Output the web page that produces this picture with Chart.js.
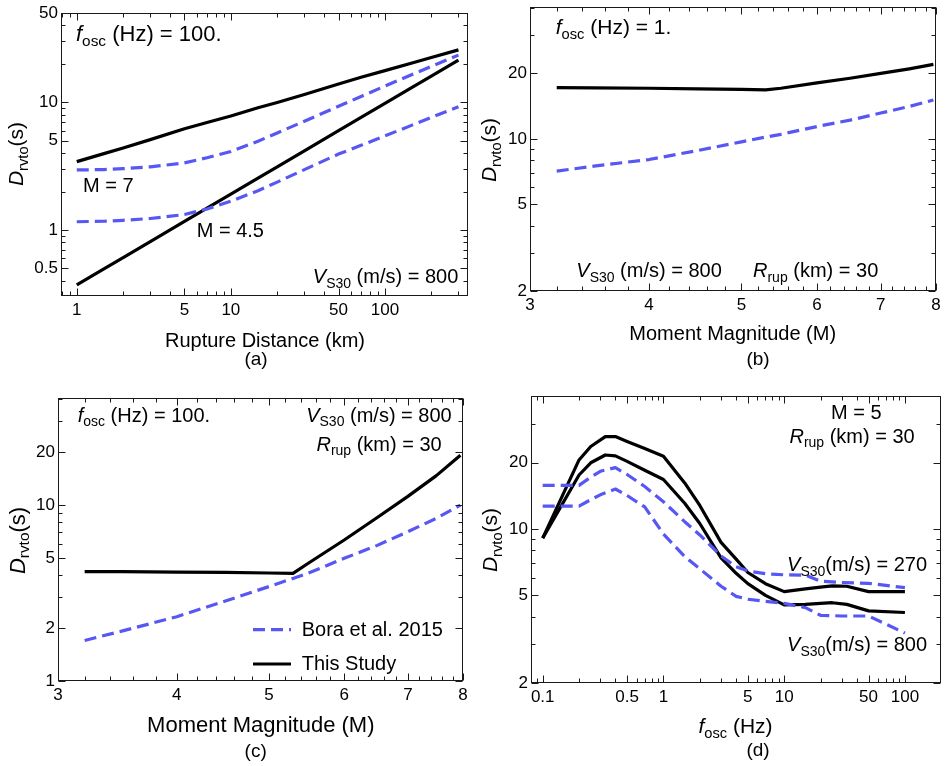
<!DOCTYPE html>
<html>
<head>
<meta charset="utf-8">
<script src="https://cdn.jsdelivr.net/npm/chart.js@4"></script>
<style>
  html, body { margin: 0; padding: 0; background: #fff; }
  #wrap { position: relative; width: 946px; height: 766px; }
  .panel { position: absolute; width: 473px; height: 383px; }
</style>
</head>
<body>
<div id="wrap">
  <canvas class="panel" id="chartA" width="473" height="383" style="left:0;top:0"></canvas>
  <canvas class="panel" id="chartB" width="473" height="383" style="left:473px;top:0"></canvas>
  <canvas class="panel" id="chartC" width="473" height="383" style="left:0;top:383px"></canvas>
  <canvas class="panel" id="chartD" width="473" height="383" style="left:473px;top:383px"></canvas>
</div>
<script>
// ============= data =========================================

// (a) duration vs rupture distance, f = 100 Hz, Vs30 = 800
const distKm = [1, 1.5, 2, 3, 5, 7, 10, 15, 20, 30, 50, 70, 100, 150, 200, 300]
const studyM7 = [3.43, 3.96, 4.38, 5.1, 6.2, 6.95, 7.8, 9.05, 9.95, 11.5, 13.9, 15.7, 17.7, 20.3, 22.4, 25.7]
const studyM45 = [0.371, 0.495, 0.607, 0.81, 1.165, 1.48, 1.907, 2.545, 3.12, 4.17, 6.0, 7.62, 9.8, 13.1, 16.0, 21.4]
const boraM7 = [2.95, 2.97, 3.02, 3.12, 3.35, 3.68, 4.12, 4.95, 5.75, 7.1, 9.3, 11.1, 13.4, 16.5, 19.1, 23.4]
const boraM45 = [1.16, 1.17, 1.19, 1.23, 1.32, 1.46, 1.68, 2.03, 2.37, 2.97, 3.93, 4.6, 5.45, 6.62, 7.6, 9.24]
const distTicks = [1, 5, 10, 50, 100]
const durTicksA = [0.5, 1, 5, 10, 50]

// (b) and (c) duration vs magnitude, Rrup = 30 km
const magnitudes = [3.2, 3.5, 4, 4.5, 5, 5.3, 5.5, 6, 6.5, 7, 7.5, 7.95]
const studyF1 = [17.2, 17.15, 17.1, 17.0, 16.9, 16.8, 17.1, 18.1, 19.0, 20.0, 21.0, 22.0]
const boraF1 = [7.11, 7.5, 8.04, 8.85, 9.7, 10.2, 10.5, 11.4, 12.2, 13.15, 14.1, 15.1]
const studyF100 = [4.19, 4.18, 4.16, 4.14, 4.11, 4.09, 4.67, 6.33, 8.5, 11.2, 14.7, 19.2]
const boraF100 = [1.70, 1.92, 2.32, 2.85, 3.44, 3.83, 4.1, 4.98, 5.9, 7.06, 8.4, 10.0]
const magTicks = [3, 4, 5, 6, 7, 8]
const durTicksB = [2, 5, 10, 20]
const durTicksC = [1, 2, 5, 10, 20]

// (d) duration vs oscillator frequency, M = 5, Rrup = 30 km
const freqStudy = [0.1, 0.2, 0.25, 0.33, 0.4, 0.5, 0.7, 1, 1.5, 2, 3, 4, 5, 7, 10, 15, 20, 25, 33, 50, 100]
const studyVs270 = [9.1, 20.6, 23.7, 26.3, 26.3, 25.0, 23.2, 21.4, 16.2, 12.8, 8.7, 7.3, 6.35, 5.65, 5.2, 5.35, 5.45, 5.52, 5.5, 5.2, 5.2]
const studyVs800 = [9.1, 17.6, 20.0, 21.7, 21.5, 20.3, 18.5, 16.8, 13.1, 10.6, 7.4, 6.3, 5.65, 5.0, 4.53, 4.55, 4.6, 4.63, 4.55, 4.25, 4.18]
const freqBora = [0.1, 0.2, 0.25, 0.3, 0.4, 0.5, 0.7, 1, 1.5, 2, 3, 4, 5, 7, 10, 15, 20, 30, 50, 100]
const boraVs270 = [15.8, 15.8, 17.2, 18.3, 19.0, 17.7, 15.6, 13.3, 10.8, 9.4, 7.55, 6.75, 6.45, 6.27, 6.2, 6.18, 5.8, 5.72, 5.67, 5.42]
const boraVs800 = [12.7, 12.7, 13.6, 14.3, 15.2, 14.2, 12.6, 9.5, 7.5, 6.6, 5.5, 4.95, 4.8, 4.7, 4.6, 4.4, 4.06, 4.03, 4.03, 3.37]
const freqTicks = [0.1, 0.5, 1, 5, 10, 50, 100]
const durTicksD = [2, 5, 10, 20]

// ============= styles =====================
const FONT = '"Liberation Sans", Arial, Helvetica, sans-serif'
const BLUE = '#5757f4'
const W = 473, H = 383

const FOSC = [['f', 'i'], ['osc', 's']]
const VS30 = [['V', 'i'], ['S30', 's']]
const RRUP = [['R', 'i'], ['rup', 's']]
const DRVTO = [['D', 'i'], ['rvto', 's'], ['(s)', '']]

function pts(xs, ys) {
    return xs.map((x, i) => ({ x: x, y: ys[i] }))
}

function line(label, xs, ys, dashed) {
    return {
        label: label,
        data: pts(xs, ys),
        borderColor: dashed ? BLUE : '#000',
        borderWidth: 3.2,
        borderDash: dashed ? [12, 6] : [],
        borderJoinStyle: 'round',
        pointRadius: 0,
        tension: 0,
        fill: false
    }
}

// minor tick positions on a log axis (1..9 x 10^n inside the range)
function logMinor(min, max, major) {
    const out = []
    for (let e = Math.floor(Math.log10(min)); e <= Math.ceil(Math.log10(max)); e++) {
        for (let k = 1; k < 10; k++) {
            const v = +(k * Math.pow(10, e)).toPrecision(6)
            if (v >= min && v <= max && major.indexOf(v) < 0) out.push(v)
        }
    }
    return out
}

function stepMinor(min, max, step, major) {
    const out = []
    for (let v = min; v <= max + 1e-9; v += step) {
        const r = Math.round(v * 10) / 10
        if (major.indexOf(r) < 0) out.push(r)
    }
    return out
}

function partFont(p, size) {
    const sz = p[1] === 's' ? size * 0.7 : size
    return (p[1] === 'i' ? 'italic ' : '') + sz + 'px ' + FONT
}

function drawRich(ctx, parts, x, y, size, align) {
    let w = 0
    parts.forEach(p => { ctx.font = partFont(p, size); w += ctx.measureText(p[0]).width })
    let cx = align === 'right' ? x - w : align === 'center' ? x - w / 2 : x
    ctx.textBaseline = 'alphabetic'
    ctx.textAlign = 'left'
    parts.forEach(p => {
        ctx.font = partFont(p, size)
        ctx.fillText(p[0], cx, y + (p[1] === 's' ? size * 0.22 : 0))
        cx += ctx.measureText(p[0]).width
    })
}

// tick values kept outside the chart options so they are not proxied
const tickSets = {}

// frame with inward ticks on all sides, annotations, legend
const panelPlugin = {
    id: 'panelDecor',
    afterDatasetsDraw(chart) {
        const cfg = chart.options.plugins.panelDecor
        const tk = tickSets[chart.canvas.id]
        const ctx = chart.ctx
        const a = chart.chartArea
        const sx = chart.scales.x, sy = chart.scales.y
        ctx.save()
        ctx.lineWidth = 1
        ctx.strokeStyle = '#1a1a1a'
        const L = Math.round(a.left) + 0.5, R = Math.round(a.right) - 0.5
        const T = Math.round(a.top) + 0.5, B = Math.round(a.bottom) - 0.5
        const seg = (x1, y1, x2, y2) => { ctx.beginPath(); ctx.moveTo(x1, y1); ctx.lineTo(x2, y2); ctx.stroke() }
        const marks = (xs, ys, len) => {
            xs.forEach(v => {
                const p = Math.round(sx.getPixelForValue(v)) + 0.5
                seg(p, B, p, B - len); seg(p, T, p, T + len)
            })
            ys.forEach(v => {
                const p = Math.round(sy.getPixelForValue(v)) + 0.5
                seg(L, p, L + len, p); seg(R, p, R - len, p)
            })
        }
        marks(tk.xMajor, tk.yMajor, 7)
        marks(tk.xMinor, tk.yMinor, 4)
        ctx.strokeRect(L, T, R - L, B - T)

        ctx.fillStyle = '#000'
        cfg.texts.forEach(t => {
            if (t.rot) {
                ctx.save()
                ctx.translate(t.x, t.y)
                ctx.rotate(-Math.PI / 2)
                drawRich(ctx, t.parts, 0, 0, t.size, 'center')
                ctx.restore()
            } else {
                drawRich(ctx, t.parts, t.x, t.y, t.size, t.align || 'left')
            }
        })

        if (cfg.legend) {
            cfg.legend.forEach(item => {
                const ds = chart.data.datasets[item.ds]
                ctx.strokeStyle = ds.borderColor
                ctx.lineWidth = ds.borderWidth
                ctx.setLineDash(ds.borderDash)
                seg(item.x1, item.y, item.x2, item.y)
                ctx.setLineDash([])
                drawRich(ctx, [[ds.label, '']], item.tx, item.ty, 20, 'left')
            })
        }
        ctx.restore()
    }
}

function makePanel(id, p) {
    tickSets[id] = { xMajor: p.x.major, xMinor: p.x.minor, yMajor: p.y.major, yMinor: p.y.minor }

    const axis = (ax, isX) => ({
        type: 'logarithmic',
        min: ax.min,
        max: ax.max,
        bounds: 'data',
        grid: { display: false, drawTicks: false },
        border: { display: false },
        ticks: {
            autoSkip: false,
            maxRotation: 0,
            minRotation: 0,
            padding: isX ? 4 : 3,
            color: '#000',
            font: { family: FONT, size: 17 },
            callback: v => String(v)
        },
        afterBuildTicks: s => { s.ticks = ax.major.map(v => ({ value: v })) },
        afterFit: s => {
            if (isX) {
                s.height = H - p.area.b
                s.paddingLeft = 0
                s.paddingRight = 0
            } else {
                s.width = p.area.l
                s.paddingTop = 0
                s.paddingBottom = 0
            }
        }
    })

    new Chart(document.getElementById(id), {
        type: 'line',
        data: { datasets: p.datasets },
        options: {
            animation: false,
            responsive: false,
            devicePixelRatio: 1,
            layout: { padding: { left: 0, top: p.area.t, right: W - p.area.r, bottom: 0 } },
            plugins: {
                legend: { display: false },
                tooltip: { enabled: false },
                panelDecor: { texts: p.texts, legend: p.legend }
            },
            scales: { x: axis(p.x, true), y: axis(p.y, false) }
        },
        plugins: [panelPlugin]
    })
}

// ============= panel (a) =====================
makePanel('chartA', {
    area: { l: 61, r: 468, t: 13, b: 296 },
    x: { min: 0.79, max: 346, major: distTicks, minor: logMinor(0.79, 346, distTicks) },
    y: { min: 0.304, max: 50, major: durTicksA, minor: logMinor(0.304, 50, durTicksA) },
    datasets: [
        line('Bora et al. 2015', distKm, boraM7, true),
        line('Bora et al. 2015', distKm, boraM45, true),
        line('This Study', distKm, studyM7, false),
        line('This Study', distKm, studyM45, false)
    ],
    texts: [
        { parts: FOSC.concat([[' (Hz) = 100.', '']]), x: 76, y: 40.7, size: 22 },
        { parts: [['M = 7', '']], x: 83, y: 191.7, size: 20 },
        { parts: [['M = 4.5', '']], x: 196.7, y: 237.3, size: 20 },
        { parts: VS30.concat([[' (m/s) = 800', '']]), x: 458.3, y: 283.3, size: 20, align: 'right' },
        { parts: [['Rupture Distance (km)', '']], x: 265, y: 346.7, size: 20, align: 'center' },
        { parts: [['(a)', '']], x: 256, y: 365, size: 19, align: 'center' },
        { parts: DRVTO, x: 23.3, y: 154, size: 21, rot: true }
    ]
})

// ============= panel (b) =====================
makePanel('chartB', {
    area: { l: 57, r: 463, t: 7, b: 291 },
    x: { min: 3, max: 8, major: magTicks, minor: stepMinor(3, 8, 0.2, magTicks) },
    y: { min: 2, max: 40.4, major: durTicksB, minor: logMinor(2, 40.4, durTicksB) },
    datasets: [
        line('Bora et al. 2015', magnitudes, boraF1, true),
        line('This Study', magnitudes, studyF1, false)
    ],
    texts: [
        { parts: FOSC.concat([[' (Hz) = 1.', '']]), x: 82.7, y: 34.3, size: 21 },
        { parts: VS30.concat([[' (m/s) = 800', '']]), x: 103.3, y: 277.3, size: 20 },
        { parts: RRUP.concat([[' (km) = 30', '']]), x: 280, y: 277.3, size: 20 },
        { parts: [['Moment Magnitude (M)', '']], x: 259.7, y: 340, size: 20, align: 'center' },
        { parts: [['(b)', '']], x: 285, y: 365, size: 19, align: 'center' },
        { parts: DRVTO, x: 23.3, y: 150, size: 21, rot: true }
    ]
})

// ============= panel (c) =====================
makePanel('chartC', {
    area: { l: 58, r: 463, t: 15, b: 298 },
    x: { min: 3, max: 8, major: magTicks, minor: stepMinor(3, 8, 0.2, magTicks) },
    y: { min: 1, max: 40.6, major: durTicksC, minor: logMinor(1, 40.6, durTicksC) },
    datasets: [
        line('Bora et al. 2015', magnitudes, boraF100, true),
        line('This Study', magnitudes, studyF100, false)
    ],
    texts: [
        { parts: FOSC.concat([[' (Hz) = 100.', '']]), x: 77.7, y: 39, size: 20 },
        { parts: VS30.concat([[' (m/s) = 800', '']]), x: 451.7, y: 39, size: 20, align: 'right' },
        { parts: RRUP.concat([[' (km) = 30', '']]), x: 441.7, y: 67.7, size: 20, align: 'right' },
        { parts: [['Moment Magnitude (M)', '']], x: 260.8, y: 349.3, size: 22, align: 'center' },
        { parts: [['(c)', '']], x: 255.7, y: 374, size: 19, align: 'center' },
        { parts: DRVTO, x: 24.5, y: 157.5, size: 22, rot: true }
    ],
    legend: [
        { ds: 0, x1: 253, x2: 291, y: 246.7, tx: 301.7, ty: 253.3 },
        { ds: 1, x1: 253, x2: 291, y: 281, tx: 301.7, ty: 287.3 }
    ]
})

// ============= panel (d) =====================
makePanel('chartD', {
    area: { l: 58, r: 468, t: 13, b: 300 },
    x: { min: 0.08, max: 199, major: freqTicks, minor: logMinor(0.08, 199, freqTicks) },
    y: { min: 2, max: 40.2, major: durTicksD, minor: logMinor(2, 40.2, durTicksD) },
    datasets: [
        line('Bora et al. 2015', freqBora, boraVs270, true),
        line('Bora et al. 2015', freqBora, boraVs800, true),
        line('This Study', freqStudy, studyVs270, false),
        line('This Study', freqStudy, studyVs800, false)
    ],
    texts: [
        { parts: [['M = 5', '']], x: 383.3, y: 36, size: 20, align: 'center' },
        { parts: RRUP.concat([[' (km) = 30', '']]), x: 441.7, y: 60, size: 20, align: 'right' },
        { parts: VS30.concat([['(m/s) = 270', '']]), x: 454, y: 188.3, size: 20, align: 'right' },
        { parts: VS30.concat([['(m/s) = 800', '']]), x: 454, y: 268.3, size: 20, align: 'right' },
        { parts: FOSC.concat([[' (Hz)', '']]), x: 262.5, y: 350, size: 21, align: 'center' },
        { parts: [['(d)', '']], x: 285, y: 373, size: 19, align: 'center' },
        { parts: DRVTO, x: 24, y: 157, size: 21, rot: true }
    ]
})
</script>
</body>
</html>
